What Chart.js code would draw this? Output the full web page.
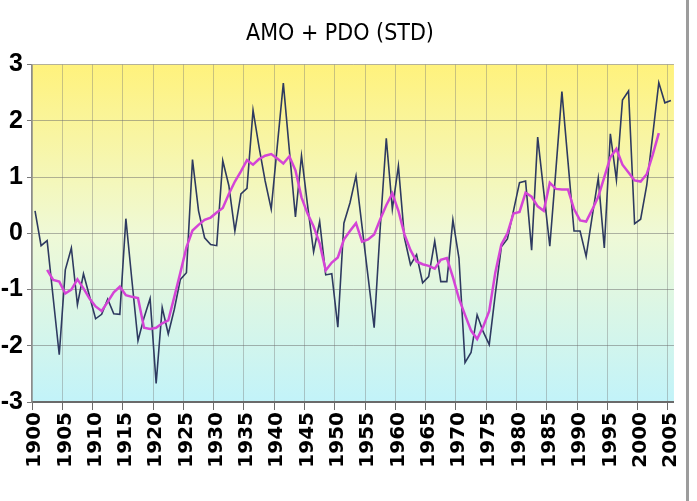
<!DOCTYPE html>
<html>
<head>
<meta charset="utf-8">
<script src="https://cdn.jsdelivr.net/npm/chart.js@4/dist/chart.umd.min.js"></script>
<style>
  html, body { margin: 0; padding: 0; background: #fff; }
  #wrap { position: relative; width: 697px; height: 501px; }
  #frame { position: absolute; left: 686px; top: 0; width: 3px; height: 501px; background: #9c9c9c; }
</style>
</head>
<body>
<div id="wrap">
  <canvas id="chart" width="697" height="501"></canvas>
  <div id="frame"></div>
</div>
<script>
const years = [
  1900, 1901, 1902, 1903, 1904, 1905, 1906, 1907, 1908, 1909,
  1910, 1911, 1912, 1913, 1914, 1915, 1916, 1917, 1918, 1919,
  1920, 1921, 1922, 1923, 1924, 1925, 1926, 1927, 1928, 1929,
  1930, 1931, 1932, 1933, 1934, 1935, 1936, 1937, 1938, 1939,
  1940, 1941, 1942, 1943, 1944, 1945, 1946, 1947, 1948, 1949,
  1950, 1951, 1952, 1953, 1954, 1955, 1956, 1957, 1958, 1959,
  1960, 1961, 1962, 1963, 1964, 1965, 1966, 1967, 1968, 1969,
  1970, 1971, 1972, 1973, 1974, 1975, 1976, 1977, 1978, 1979,
  1980, 1981, 1982, 1983, 1984, 1985, 1986, 1987, 1988, 1989,
  1990, 1991, 1992, 1993, 1994, 1995, 1996, 1997, 1998, 1999,
  2000, 2001, 2002, 2003, 2004, 2005
]

// annual AMO + PDO (standardised)
const annual = [
  0.40, -0.22, -0.13, -1.15, -2.16, -0.65, -0.26, -1.27, -0.72, -1.12,
  -1.52, -1.44, -1.17, -1.43, -1.44, 0.26, -0.84, -1.91, -1.50, -1.16,
  -2.67, -1.32, -1.79, -1.35, -0.82, -0.70, 1.31, 0.40, -0.08, -0.20,
  -0.22, 1.29, 0.85, 0.04, 0.70, 0.80, 2.19, 1.53, 0.93, 0.43,
  1.55, 2.67, 1.47, 0.29, 1.38, 0.50, -0.33, 0.21, -0.74, -0.72,
  -1.67, 0.18, 0.54, 1.02, 0.12, -0.78, -1.68, 0.10, 1.69, 0.43,
  1.20, -0.08, -0.56, -0.38, -0.88, -0.77, -0.14, -0.86, -0.86, 0.24,
  -0.44, -2.30, -2.12, -1.45, -1.75, -1.98, -1.08, -0.24, -0.10, 0.40,
  0.90, 0.93, -0.30, 1.71, 0.74, -0.23, 1.12, 2.52, 1.28, 0.04,
  0.04, -0.41, 0.30, 0.98, -0.26, 1.77, 0.95, 2.37, 2.53, 0.17,
  0.25, 0.85, 1.75, 2.68, 2.32, 2.36
]

// smoothed curve (magenta)
const smoothed = [
  null, null, -0.65, -0.83, -0.86, -1.07, -1.00, -0.82, -0.98, -1.16,
  -1.30, -1.38, -1.22, -1.05, -0.95, -1.10, -1.13, -1.15, -1.68, -1.70,
  -1.68, -1.60, -1.55, -1.13, -0.70, -0.25, 0.05, 0.15, 0.24, 0.28,
  0.37, 0.45, 0.70, 0.92, 1.10, 1.30, 1.22, 1.32, 1.38, 1.41,
  1.33, 1.24, 1.37, 1.12, 0.64, 0.35, 0.12, -0.18, -0.66, -0.52,
  -0.43, -0.11, 0.04, 0.18, -0.15, -0.11, -0.02, 0.25, 0.50, 0.71,
  0.40, -0.02, -0.30, -0.50, -0.55, -0.58, -0.63, -0.47, -0.44, -0.78,
  -1.16, -1.45, -1.73, -1.88, -1.66, -1.38, -0.70, -0.20, 0.00, 0.35,
  0.38, 0.72, 0.65, 0.48, 0.40, 0.90, 0.79, 0.78, 0.78, 0.43,
  0.23, 0.21, 0.42, 0.65, 1.00, 1.35, 1.50, 1.22, 1.08, 0.94,
  0.92, 1.05, 1.40, 1.78, null, null
]

const yTicks = [-3, -2, -1, 0, 1, 2, 3]

const plotBackground = {
  id: "plotBackground",
  beforeDraw(chart) {
    const { ctx, chartArea: a } = chart
    const g = ctx.createLinearGradient(0, a.top, 0, a.bottom)
    g.addColorStop(0, "#fff27c")
    g.addColorStop(0.5, "#eff9d6")
    g.addColorStop(1, "#c2f3f9")
    ctx.save()
    ctx.fillStyle = g
    ctx.fillRect(a.left, a.top, a.right - a.left, a.bottom - a.top)
    ctx.restore()
  }
}

new Chart(document.getElementById("chart"), {
  type: "line",
  data: {
    labels: years,
    datasets: [
      {
        data: smoothed,
        borderColor: "#d444d6",
        borderWidth: 2.5,
        pointRadius: 0,
        tension: 0,
        order: 0
      },
      {
        data: annual,
        borderColor: "#2e3a60",
        borderWidth: 1.6,
        pointRadius: 0,
        tension: 0,
        order: 1
      }
    ]
  },
  options: {
    responsive: false,
    animation: false,
    layout: { padding: { left: 0, right: 17, top: 0, bottom: 0 } },
    plugins: {
      legend: { display: false },
      tooltip: { enabled: false },
      title: {
        display: true,
        text: "AMO + PDO (STD)",
        color: "#000",
        font: { family: "'DejaVu Sans Condensed', 'Liberation Sans', Arial", size: 23, weight: "normal" },
        padding: { top: 20, bottom: 17 }
      }
    },
    scales: {
      x: {
        type: "category",
        offset: true,
        afterFit: s => { s.height = 99 },
        grid: {
          offset: true,
          color: c => (c.index % 5 === 0 ? "rgba(120,120,120,0.4)" : "transparent"),
          tickColor: c => (c.index % 5 === 0 ? "#6a6a6a" : "transparent"),
          tickLength: 8,
          lineWidth: 1
        },
        border: { color: "#6a6a6a", width: 2 },
        ticks: {
          autoSkip: false,
          minRotation: 90,
          maxRotation: 90,
          padding: 2,
          color: "#000",
          font: { family: "'DejaVu Sans', Arial", size: 20, weight: "bold" },
          callback: (v, i) => (years[i] % 5 === 0 ? String(years[i]) : "")
        }
      },
      y: {
        min: -3,
        max: 3,
        afterFit: s => { s.width = 32 },
        afterBuildTicks: s => { s.ticks = yTicks.map(v => ({ value: v })) },
        grid: {
          color: "rgba(105,105,105,0.5)",
          tickColor: "#777",
          tickLength: 5,
          lineWidth: 1
        },
        border: { color: "#8c8c8c", width: 1.5 },
        ticks: {
          padding: 4,
          color: "#000",
          font: { family: "'Liberation Sans', Arial", size: 25, weight: "bold" }
        }
      }
    }
  },
  plugins: [plotBackground]
})
</script>
</body>
</html>
